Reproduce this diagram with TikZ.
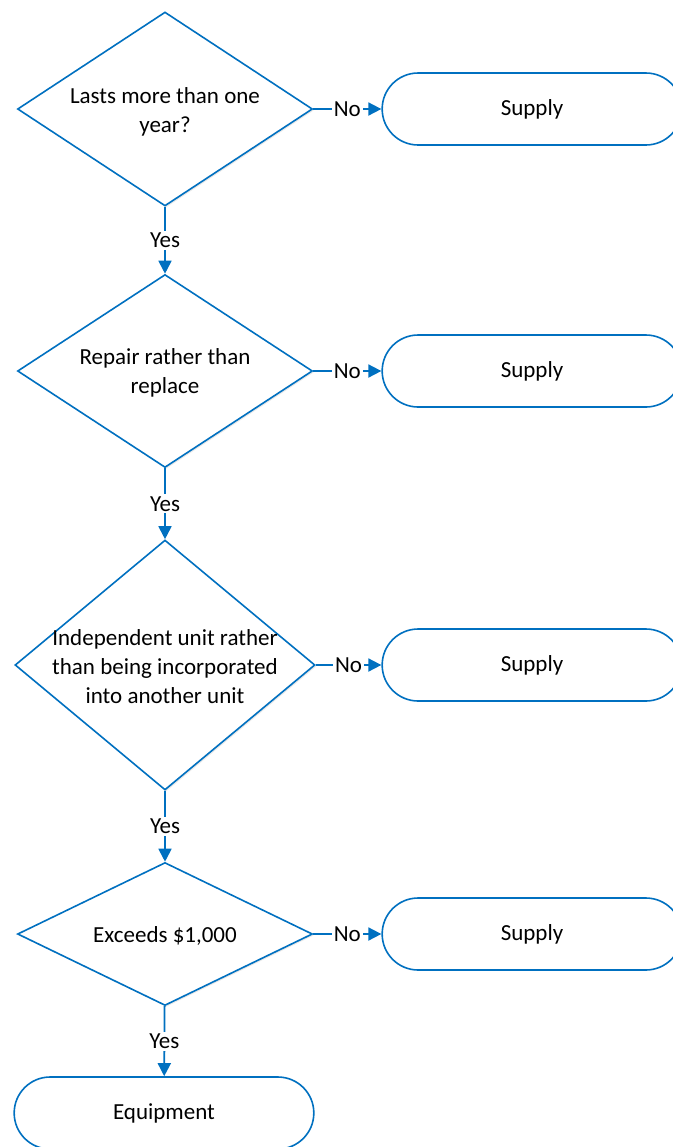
\documentclass[tikz,border=0pt]{standalone}
\usepackage{fontspec}
\setmainfont{Carlito}
\usepackage{tikz}
\usetikzlibrary{shapes.geometric,shapes.misc,arrows.meta,shadows}
\definecolor{flowblue}{RGB}{0,112,192}

\begin{document}
\begin{tikzpicture}[x=0.5pt,y=-0.5pt,>={Triangle[length=6.5pt,width=6.5pt]},
    font=\fontsize{11.5}{14.5}\selectfont,
    decision/.style={shape=diamond,draw=flowblue,line width=0.8pt,fill=white,inner sep=0pt,
      drop shadow={opacity=0.18,shadow xshift=0.7pt,shadow yshift=-0.7pt}},
    terminal/.style={shape=rounded rectangle,draw=flowblue,line width=0.8pt,fill=white,
      minimum width=156.5pt,minimum height=36pt},
    flow/.style={draw=flowblue,line width=0.9pt},
    lbl/.style={fill=white,inner sep=1pt}]
    \useasboundingbox (0,0) rectangle (673,1147);

    % Place decisions
    \node (DEC1) at (165,109) [decision,minimum width=147.5pt,minimum height=97pt] {};
    \node (DEC2) at (165,371) [decision,minimum width=147.5pt,minimum height=96.5pt] {};
    \node (DEC3) at (165,665) [decision,minimum width=150pt,minimum height=125pt] {};
    \node (DEC4) at (165,934) [decision,minimum width=147.5pt,minimum height=71.5pt] {};

    % Decision texts
    \node (TXT1) at (165,112) [align=center] {Lasts more than one\\year?};
    \node (TXT2) at (165,373) [align=center] {Repair rather than\\replace};
    \node (TXT3) at (165,667) [align=center] {Independent unit rather\\than being incorporated\\into another unit};
    \node (TXT4) at (165,936) {Exceeds \$1,000};

    % Place outcomes
    \node (SUP1) at (532,109) [terminal] {Supply};
    \node (SUP2) at (532,371) [terminal] {Supply};
    \node (SUP3) at (532,665) [terminal] {Supply};
    \node (SUP4) at (532,934) [terminal] {Supply};
    \node (EQP) at (164,1113) [terminal] {Equipment};

    % Yes branches
    \draw [flow,->] (DEC1) -- node [lbl] {Yes} (DEC2);
    \draw [flow,->] (DEC2) -- node [lbl] {Yes} (DEC3);
    \draw [flow,->] (DEC3) -- node [lbl] {Yes} (DEC4);
    \draw [flow,->] (DEC4) -- node [lbl] {Yes} (EQP);

    % No branches
    \foreach \m in {1,...,4}
      \draw [flow,->] (DEC\m.east) -- node [lbl] {No} (SUP\m.west);
\end{tikzpicture}
\end{document}
